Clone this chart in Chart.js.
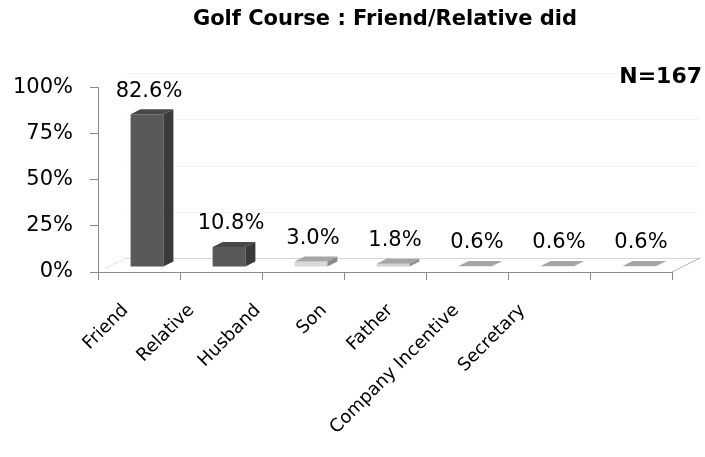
<!DOCTYPE html>
<html>
<head>
<meta charset="utf-8">
<script src="https://cdn.jsdelivr.net/npm/chart.js@4.4.1/dist/chart.umd.min.js"></script>
<style>
  html, body { margin: 0; padding: 0; background: #ffffff; }
  canvas { display: block; }
</style>
</head>
<body>
<canvas id="chart" width="705" height="457"></canvas>
<script>
// Categories and shares (percent of respondents)
const categories = ['Friend', 'Relative', 'Husband', 'Son', 'Father', 'Company Incentive', 'Secretary'];
const shares = [82.6, 10.8, 3.0, 1.8, 0.6, 0.6, 0.6];
const yTicks = [0, 25, 50, 75, 100];
const chartTitle = 'Golf Course : Friend/Relative did';
const sampleNote = 'N=167';

// Face shading for the 3D columns
const frontColors = ['#595959', '#595959', '#d9d9d9', '#d4d4d4', '#d9d9d9', '#d9d9d9', '#d9d9d9'];
const topColors   = ['#484848', '#484848', '#a6a6a6', '#a6a6a6', '#a6a6a6', '#a6a6a6', '#a6a6a6'];
const sideColors  = ['#3a3a3a', '#3a3a3a', '#8c8c8c', '#8c8c8c', '#8c8c8c', '#8c8c8c', '#8c8c8c'];

const FONT = "'DejaVu Sans', Verdana, sans-serif";
const AXIS_GRAY = '#8a8a8a';

// Perspective offsets: column front plane and column depth, floor depth
const FRONT = { dx: 8, dy: -5 };
const DEPTH = { dx: 10, dy: -5 };
const FLOOR = { dx: 28, dy: -14 };

// Category names sit on their own axis with a tighter spacing than the columns
const NAME_MIN = -0.414;
const NAME_MAX = 8.257;

const threeD = {
  id: 'threeD',
  beforeDatasetsDraw(chart) {
    const { ctx, chartArea: a, scales } = chart;
    const y = scales.y;
    ctx.save();
    // back-wall gridlines
    ctx.strokeStyle = '#f3f3f3';
    ctx.lineWidth = 1;
    yTicks.slice(1).forEach(v => {
      const py = Math.round(y.getPixelForValue(v) + FLOOR.dy) + 0.5;
      ctx.beginPath();
      ctx.moveTo(a.left + FLOOR.dx, py);
      ctx.lineTo(a.right + FLOOR.dx, py);
      ctx.stroke();
    });
    // floor
    const fy = y.getPixelForValue(0);
    ctx.strokeStyle = '#d6d6d6';
    ctx.beginPath();
    ctx.moveTo(a.left + FLOOR.dx, Math.round(fy + FLOOR.dy) + 0.5);
    ctx.lineTo(a.right + FLOOR.dx, Math.round(fy + FLOOR.dy) + 0.5);
    ctx.stroke();
    ctx.strokeStyle = '#b0b0b0';
    ctx.beginPath();
    ctx.moveTo(a.right, fy);
    ctx.lineTo(a.right + FLOOR.dx, fy + FLOOR.dy);
    ctx.stroke();
    ctx.strokeStyle = '#c8c8c8';
    ctx.setLineDash([1.5, 1.5]);
    ctx.beginPath();
    ctx.moveTo(a.left + 8, fy - 4);
    ctx.lineTo(a.left + FLOOR.dx, fy + FLOOR.dy);
    ctx.stroke();
    ctx.setLineDash([]);
    ctx.restore();
    // front faces are drawn by the bar controller on the column front plane
    ctx.save();
    ctx.translate(FRONT.dx, FRONT.dy);
  },
  afterDatasetsDraw(chart) {
    const { ctx } = chart;
    ctx.restore();
    const meta = chart.getDatasetMeta(0);
    ctx.save();
    meta.data.forEach((bar, i) => {
      const p = bar.getProps(['x', 'y', 'base', 'width'], true);
      const L = p.x - p.width / 2 + FRONT.dx;
      const R = p.x + p.width / 2 + FRONT.dx;
      const T = p.y + FRONT.dy;
      const B = p.base + FRONT.dy;
      // top face
      ctx.fillStyle = topColors[i];
      ctx.beginPath();
      ctx.moveTo(L, T);
      ctx.lineTo(R, T);
      ctx.lineTo(R + DEPTH.dx, T + DEPTH.dy);
      ctx.lineTo(L + DEPTH.dx, T + DEPTH.dy);
      ctx.closePath();
      ctx.fill();
      // side face
      ctx.fillStyle = sideColors[i];
      ctx.beginPath();
      ctx.moveTo(R, T);
      ctx.lineTo(R + DEPTH.dx, T + DEPTH.dy);
      ctx.lineTo(R + DEPTH.dx, B + DEPTH.dy);
      ctx.lineTo(R, B);
      ctx.closePath();
      ctx.fill();
      // value label
      ctx.fillStyle = '#000000';
      ctx.font = '21px ' + FONT;
      ctx.textAlign = 'center';
      ctx.textBaseline = 'middle';
      const v = chart.data.datasets[0].data[i];
      ctx.fillText(v.toFixed(1) + '%', (L + R) / 2 + 2, T + DEPTH.dy - 18);
    });
    // sample size note
    ctx.font = 'bold 22px ' + FONT;
    ctx.textAlign = 'right';
    ctx.textBaseline = 'middle';
    ctx.fillText(sampleNote, 702, 77);
    ctx.restore();
  }
};

new Chart(document.getElementById('chart'), {
  type: 'bar',
  data: {
    labels: categories,
    datasets: [{
      data: shares,
      backgroundColor: frontColors,
      borderWidth: 0,
      categoryPercentage: 1,
      barPercentage: 0.4
    }]
  },
  options: {
    responsive: false,
    animation: false,
    devicePixelRatio: 1,
    layout: { padding: { left: 0, right: 33, top: 0, bottom: 0 } },
    plugins: {
      legend: { display: false },
      tooltip: { enabled: false },
      title: {
        display: true,
        text: chartTitle,
        fullSize: false,
        color: '#000000',
        font: { family: FONT, size: 21, weight: 'bold' },
        padding: { top: 7, bottom: 55 }
      }
    },
    scales: {
      x: {
        type: 'category',
        position: 'bottom',
        weight: 0,
        ticks: { display: false },
        grid: { offset: true, drawOnChartArea: false, tickLength: 8, color: AXIS_GRAY },
        border: { color: AXIS_GRAY },
        afterFit(s) { s.height = 8; }
      },
      names: {
        type: 'linear',
        position: 'bottom',
        weight: 1,
        offset: false,
        bounds: 'data',
        min: NAME_MIN,
        max: NAME_MAX,
        afterBuildTicks(s) {
          s.ticks = categories.map((_, i) => ({ value: i }));
          s.min = NAME_MIN;
          s.max = NAME_MAX;
        },
        ticks: {
          autoSkip: false,
          minRotation: 45,
          maxRotation: 45,
          padding: 20,
          color: '#000000',
          font: { family: FONT, size: 18 },
          callback: (v) => categories[v]
        },
        grid: { display: false, drawTicks: false, offset: false },
        border: { display: false },
        afterFit(s) { s.height = 177; }
      },
      y: {
        min: 0,
        max: 100,
        afterBuildTicks(s) { s.ticks = yTicks.map(v => ({ value: v })); },
        ticks: {
          padding: 17,
          color: '#000000',
          font: { family: FONT, size: 21 },
          callback: (v) => v + '%'
        },
        grid: { drawOnChartArea: false, tickLength: 8, color: AXIS_GRAY },
        border: { color: AXIS_GRAY },
        afterFit(s) { s.width = 98; }
      }
    }
  },
  plugins: [threeD]
});
</script>
</body>
</html>
